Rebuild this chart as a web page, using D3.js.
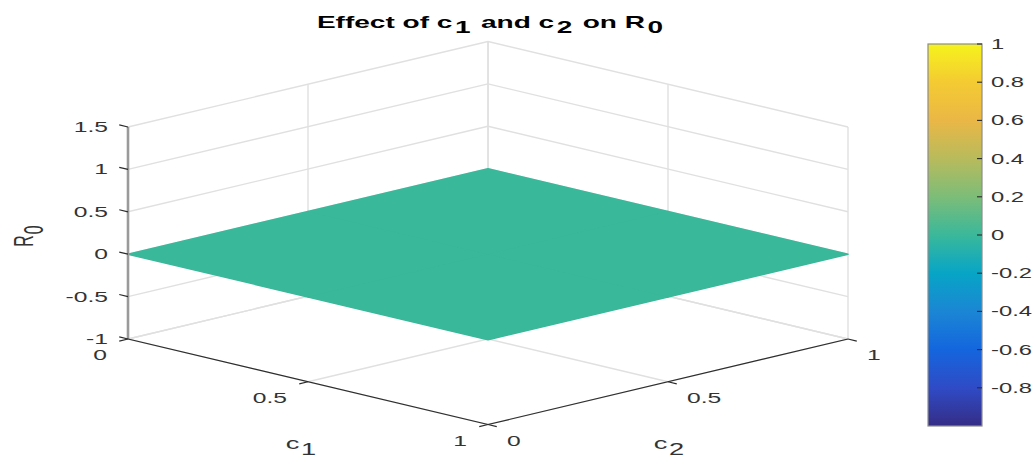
<!DOCTYPE html>
<html>
<head>
<meta charset="utf-8">
<script src="https://cdn.jsdelivr.net/npm/d3@7"></script>
<style>
  html, body { margin: 0; padding: 0; background: #fff; }
  svg { display: block; font-family: "Liberation Sans", Arial, Helvetica, sans-serif; }
</style>
</head>
<body>
<svg id="chart" width="1033" height="459"></svg>
<script>
// Surface grid: c1 along one floor axis, c2 along the other, R0 heights
const c1Grid = [0, 0.5, 1];
const c2Grid = [0, 0.5, 1];
const R0Grid = [
  [0, 0, 0],
  [0, 0, 0],
  [0, 0, 0]
];

// Axis ticks
const c1Ticks = [0, 0.5, 1];
const c2Ticks = [0, 0.5, 1];
const zTicks = [-1, -0.5, 0, 0.5, 1, 1.5];
const zTickLabels = ["-1", "-0.5", "0", "0.5", "1", "1.5"];
const c1TickLabels = ["0", "0.5", "1"];
const c2TickLabels = ["0", "0.5", "1"];

// Colour limits and colour bar ticks
const colorLimits = [-1, 1];
const colorbarTicks = [-0.8, -0.6, -0.4, -0.2, 0, 0.2, 0.4, 0.6, 0.8, 1];
const colorbarTickLabels = ["-0.8", "-0.6", "-0.4", "-0.2", "0", "0.2", "0.4", "0.6", "0.8", "1"];

// Parula-like colormap stops (value -> colour)
const colormapValues = [-1, -0.8, -0.6, -0.4, -0.2, 0, 0.2, 0.4, 0.6, 0.8, 1];
const colormapColors = ["#352d86", "#2f4bc6", "#1466de", "#1b86d4", "#07a5c6", "#3ab89a",
                        "#7cbd78", "#b8bb5c", "#eab746", "#f4cb32", "#f6f31c"];

const svg = d3.select("#chart");
const STRETCH = 1.7; // horizontal stretch applied to all text

// ---- 3D axes projection built from linear scales ----
const zLimits = [-1, 1.5];
const runX = d3.scaleLinear().domain([0, 1]).range([0, 360]);
const runY = d3.scaleLinear().domain([0, 1]).range([0, 85.5]);
const zY = d3.scaleLinear().domain(zLimits).range([339, 127]);
const x0 = 128;
function P(c1, c2, z) {
  return [x0 + runX(c1) + runX(c2), zY(z) + runY(c1) - runY(c2)];
}
const color = d3.scaleLinear().domain(colormapValues).range(colormapColors).clamp(true);

const line = d3.line();

// ---- grid lines on the back walls and floor ----
const gridSegs = [];
zTicks.forEach(z => {
  gridSegs.push([P(0, 0, z), P(0, 1, z)]);       // left wall (c1 = 0)
  gridSegs.push([P(0, 1, z), P(1, 1, z)]);       // right wall (c2 = 1)
});
c2Ticks.forEach(c2 => {
  gridSegs.push([P(0, c2, zLimits[0]), P(0, c2, zLimits[1])]);
  gridSegs.push([P(0, c2, zLimits[0]), P(1, c2, zLimits[0])]);  // floor
});
c1Ticks.forEach(c1 => {
  gridSegs.push([P(c1, 1, zLimits[0]), P(c1, 1, zLimits[1])]);
  gridSegs.push([P(c1, 0, zLimits[0]), P(c1, 1, zLimits[0])]);  // floor
});
svg.append("g").selectAll("path").data(gridSegs).join("path")
  .attr("d", d => line(d))
  .attr("fill", "none")
  .attr("stroke", "#e0e0e0")
  .attr("stroke-width", 1.4);

// ---- surface ----
const cells = [];
for (let i = 0; i < c1Grid.length - 1; i++) {
  for (let j = 0; j < c2Grid.length - 1; j++) {
    const v = (R0Grid[i][j] + R0Grid[i + 1][j] + R0Grid[i + 1][j + 1] + R0Grid[i][j + 1]) / 4;
    cells.push({
      pts: [P(c1Grid[i], c2Grid[j], R0Grid[i][j]),
            P(c1Grid[i + 1], c2Grid[j], R0Grid[i + 1][j]),
            P(c1Grid[i + 1], c2Grid[j + 1], R0Grid[i + 1][j + 1]),
            P(c1Grid[i], c2Grid[j + 1], R0Grid[i][j + 1])],
      v
    });
  }
}
const surf = svg.append("g");
// outline pass fills the anti-aliasing seams between neighbouring cells
surf.selectAll("path.seam").data(cells).join("path").attr("class", "seam")
  .attr("d", d => line(d.pts) + "Z")
  .attr("fill", "none")
  .attr("stroke", d => color(d.v))
  .attr("stroke-width", 1.5)
  .attr("stroke-linejoin", "round");
surf.selectAll("path.cell").data(cells).join("path").attr("class", "cell")
  .attr("d", d => line(d.pts) + "Z")
  .attr("fill", d => color(d.v))
  .attr("stroke", "none");

// ---- axis lines ----
const axes = svg.append("g");
axes.append("path")
  .attr("d", line([P(0, 0, zLimits[0]), P(0, 0, zLimits[1])]))
  .attr("stroke", "#9a9a9a").attr("stroke-width", 2.6).attr("fill", "none");
axes.append("path")
  .attr("d", line([P(0, 0, zLimits[0]), P(1, 0, zLimits[0])]))
  .attr("stroke", "#2b2b2b").attr("stroke-width", 1.2).attr("fill", "none");
axes.append("path")
  .attr("d", line([P(1, 0, zLimits[0]), P(1, 1, zLimits[0])]))
  .attr("stroke", "#2b2b2b").attr("stroke-width", 1.2).attr("fill", "none");

// tick marks point outward along the other floor axes
const TL = 9;
const ux = 0.973, uy = 0.231;
const tickSegs = [];
zTicks.forEach(z => { const p = P(0, 0, z); tickSegs.push([p, [p[0] - TL * ux, p[1] - TL * uy]]); });
c1Ticks.forEach(c => { const p = P(c, 0, zLimits[0]); tickSegs.push([p, [p[0] - TL * ux, p[1] + TL * uy]]); });
c2Ticks.forEach(c => { const p = P(1, c, zLimits[0]); tickSegs.push([p, [p[0] + TL * ux, p[1] + TL * uy]]); });
axes.selectAll("path.tick").data(tickSegs).join("path").attr("class", "tick")
  .attr("d", d => line(d))
  .attr("stroke", "#2b2b2b").attr("stroke-width", 1.2).attr("fill", "none");

// ---- text helper: stretched text placed at (x, y) ----
function addText(g, x, y, parts, opts) {
  const t = g.append("text")
    .attr("transform", `translate(${x},${y}) scale(${STRETCH},1)` + (opts.rotate ? ` rotate(${opts.rotate})` : ""))
    .attr("text-anchor", opts.anchor || "start")
    .attr("dominant-baseline", opts.baseline || "auto")
    .attr("font-size", opts.size)
    .attr("font-weight", opts.weight || "normal")
    .attr("fill", opts.fill || "#333");
  let shifted = false;
  parts.forEach(p => {
    const s = t.append("tspan").text(p.text);
    if (p.sub && !shifted) { s.attr("dy", opts.subShift).attr("dx", opts.subGap || 0); shifted = true; }
    else if (!p.sub && shifted) { s.attr("dy", -opts.subShift).attr("dx", opts.subGap || 0); shifted = false; }
  });
  return t;
}

const labels = svg.append("g");
zTicks.forEach((z, i) => {
  const p = P(0, 0, z);
  addText(labels, p[0] - 20, p[1], [{ text: zTickLabels[i] }], { anchor: "end", baseline: "central", size: 14.5 });
});
c1Ticks.forEach((c, i) => {
  const p = P(c, 0, zLimits[0]);
  addText(labels, p[0] - 21, p[1] + 16, [{ text: c1TickLabels[i] }], { anchor: "end", baseline: "central", size: 14.5 });
});
c2Ticks.forEach((c, i) => {
  const p = P(1, c, zLimits[0]);
  addText(labels, p[0] + 19, p[1] + 16, [{ text: c2TickLabels[i] }], { anchor: "start", baseline: "central", size: 14.5 });
});

// axis titles
const m1 = P(0.5, 0, zLimits[0]);
addText(labels, m1[0] - 7, m1[1] + 67, [{ text: "c" }, { text: "1", sub: true }],
  { anchor: "middle", size: 16, subShift: 6, subGap: 1 });
const m2 = P(1, 0.5, zLimits[0]);
addText(labels, m2[0] + 1, m2[1] + 67, [{ text: "c" }, { text: "2", sub: true }],
  { anchor: "middle", size: 16, subShift: 6, subGap: 1 });
addText(labels, 33, 236, [{ text: "R" }, { text: "0", sub: true }],
  { anchor: "middle", size: 16, subShift: 6, subGap: 1, rotate: -90 });

// chart title
addText(labels, 490, 28, [
  { text: "Effect of c" }, { text: "1", sub: true }, { text: " and c" }, { text: "2", sub: true },
  { text: " on R" }, { text: "0", sub: true }
], { anchor: "middle", size: 16.5, weight: "bold", fill: "#000", subShift: 5, subGap: 1.5 });

// ---- colour bar ----
const cbX = 928, cbW = 54;
const cbY = d3.scaleLinear().domain(colorLimits).range([426, 44]);
const defs = svg.append("defs");
const grad = defs.append("linearGradient").attr("id", "cmap")
  .attr("x1", 0).attr("y1", 1).attr("x2", 0).attr("y2", 0);
grad.selectAll("stop").data(colormapValues).join("stop")
  .attr("offset", v => (v - colorLimits[0]) / (colorLimits[1] - colorLimits[0]))
  .attr("stop-color", v => color(v));
const cb = svg.append("g");
cb.append("rect")
  .attr("x", cbX).attr("y", cbY(colorLimits[1]))
  .attr("width", cbW).attr("height", cbY(colorLimits[0]) - cbY(colorLimits[1]))
  .attr("fill", "url(#cmap)")
  .attr("stroke", "#8c8c8c").attr("stroke-width", 1.2);
cb.selectAll("line").data(colorbarTicks).join("line")
  .attr("x1", cbX + cbW).attr("x2", cbX + cbW - 5)
  .attr("y1", d => cbY(d)).attr("y2", d => cbY(d))
  .attr("stroke", "#2b2b2b").attr("stroke-width", 1.1);
colorbarTicks.forEach((v, i) => {
  addText(cb, cbX + cbW + 9, cbY(v), [{ text: colorbarTickLabels[i] }],
    { anchor: "start", baseline: "central", size: 14 });
});
</script>
</body>
</html>
